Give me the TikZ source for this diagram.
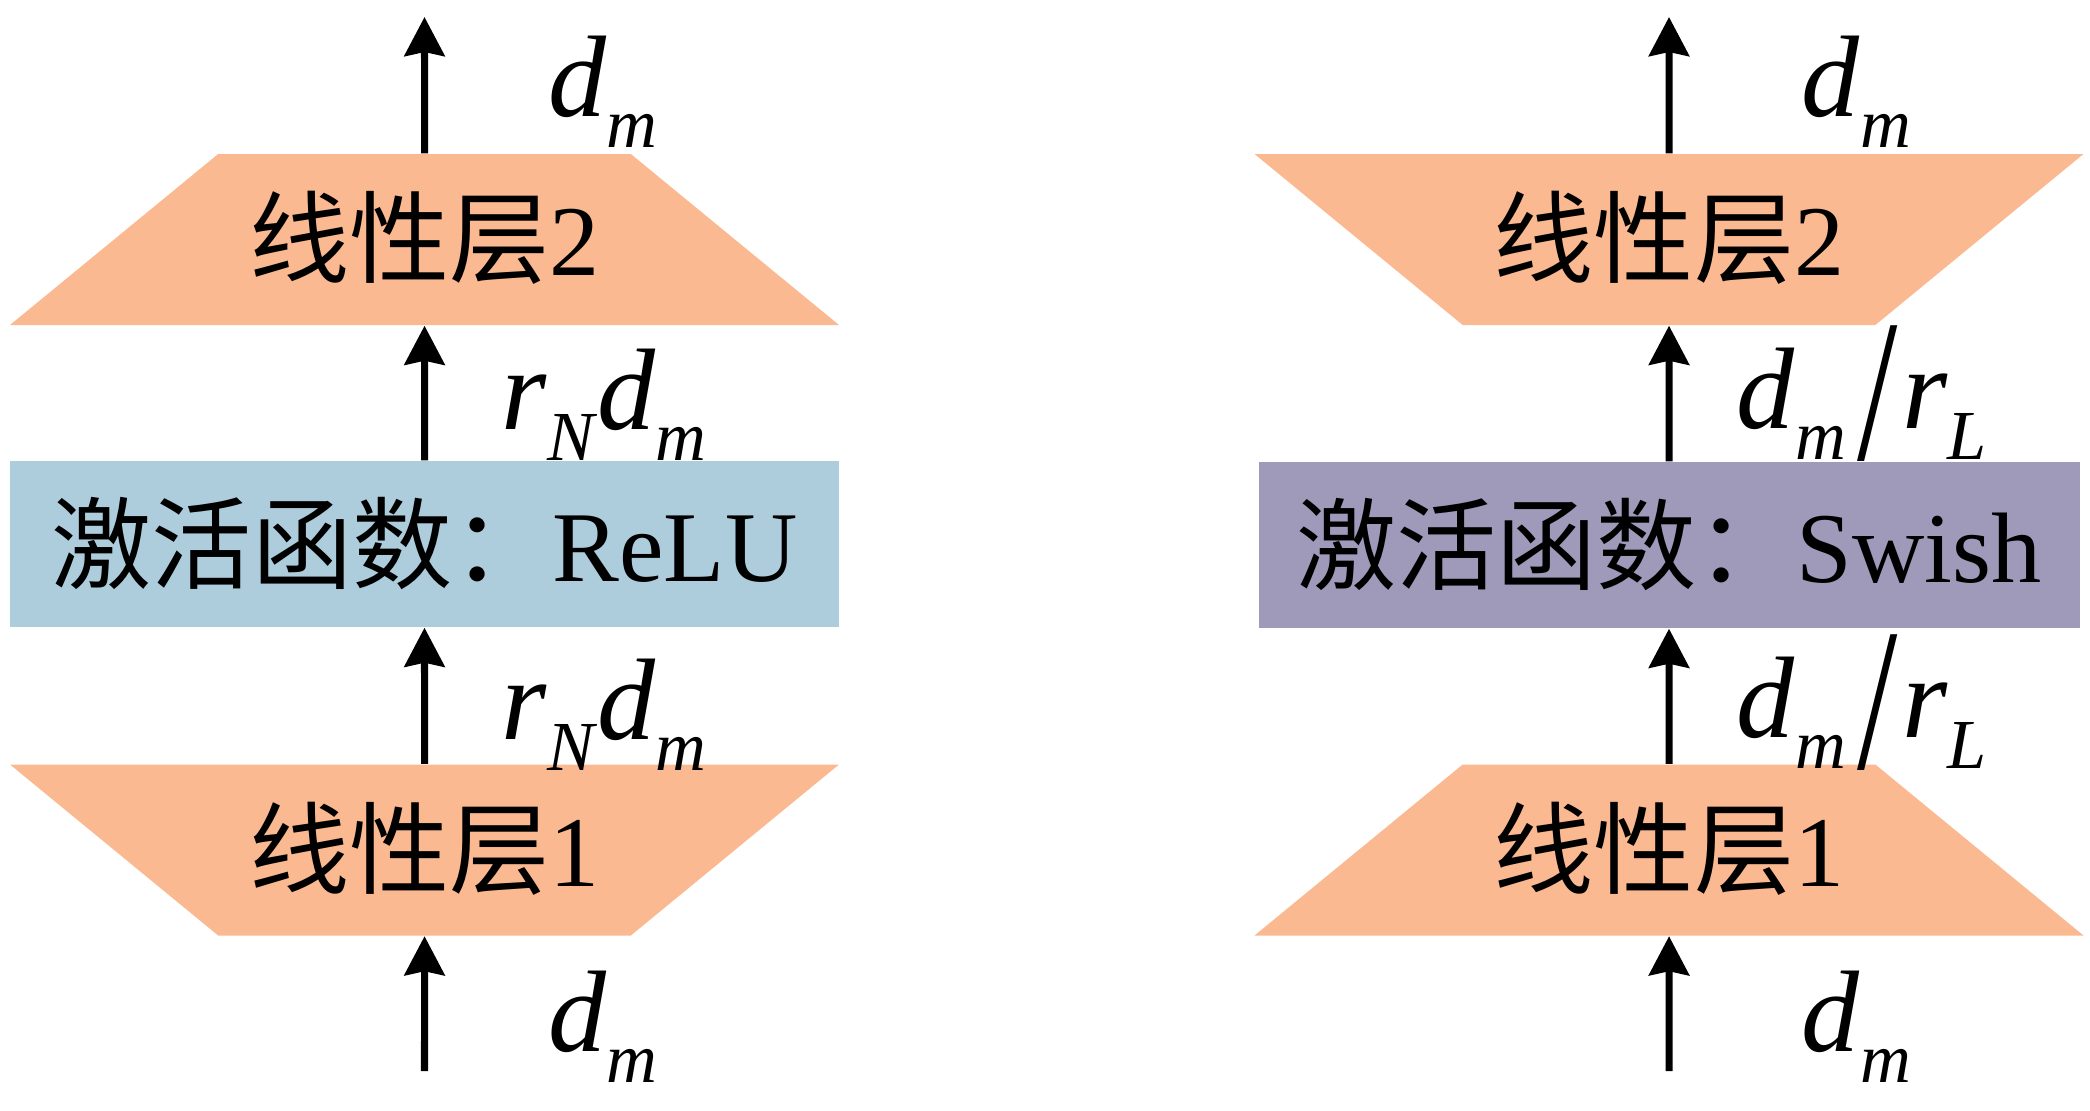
\documentclass[tikz,border=0pt]{standalone}
\usepackage{graphicx}
\usepackage{fontspec}
\setmainfont{Liberation Serif}
\newfontfamily\cjk{Noto Sans CJK SC}
\usetikzlibrary{shapes.geometric,arrows.meta}
\definecolor{layerorange}{RGB}{251,185,145}
\definecolor{relublue}{RGB}{174,205,220}
\definecolor{swishpurple}{RGB}{159,153,186}
\newcommand{\lsub}[1]{\raisebox{-0.27em}{\fontsize{20}{22}\selectfont\textit{#1}}}
\newcommand{\dm}{\textit{d}\lsub{m}}
\newcommand{\rNdm}{\textit{r}\lsub{N}\dm}
\newcommand{\dmrL}{\dm\hspace{0.1em}\raisebox{-9pt}{\scalebox{1.25}[1.75]{/}}\hspace{0.04em}\textit{r}\lsub{L}}
\tikzset{
  linlayer/.style={
    trapezium,
    trapezium stretches body,
    trapezium angle=39.4,
    minimum width=8.29cm,
    text height=0.81cm,
    text depth=0.09cm,
    inner xsep=0pt,
    inner ysep=0.405cm,
    fill=layerorange,
    font=\fontsize{28.5}{30}\selectfont,
  },
  actbox/.style={
    rectangle,
    minimum height=1.66cm,
    inner sep=0pt,
    font=\fontsize{28.5}{30}\selectfont,
  },
  flow/.style={line width=2pt, -{Stealth[length=0.39cm,width=0.40cm,inset=0.04cm]}},
  dimlbl/.style={anchor=base west, inner sep=0pt, font=\fontsize{33}{36}\selectfont},
}

\begin{document}
\begin{tikzpicture}
  \useasboundingbox (0,0) rectangle (20.90,11.10);
  % left: ReLU
  \node[linlayer, shape border rotate=180] (lin1L) at (4.245,2.60) {{\cjk 线性层}1};
  \node[actbox, fill=relublue, minimum width=8.29cm] (actL) at (4.245,5.66) {{\cjk 激活函数：}ReLU};
  \node[linlayer] (lin2L) at (4.245,8.705) {{\cjk 线性层}2};
  \coordinate (inL) at (4.245,0.39);
  \coordinate (outL) at (4.245,10.93);
  \draw[flow] (inL) -- (lin1L);
  \draw[flow] (lin1L) -- (actL);
  \draw[flow] (actL) -- (lin2L);
  \draw[flow] (lin2L) -- (outL);
  \node[dimlbl] (dInL) at (5.48,0.59) {\dm};
  \node[dimlbl] (dMidL1) at (5.01,3.71) {\rNdm};
  \node[dimlbl] (dMidL2) at (5.01,6.81) {\rNdm};
  \node[dimlbl] (dOutL) at (5.48,9.94) {\dm};
  % right: Swish
  \node[linlayer] (lin1R) at (16.69,2.60) {{\cjk 线性层}1};
  \node[actbox, fill=swishpurple, minimum width=8.21cm] (actR) at (16.69,5.65) {{\cjk 激活函数：}Swish};
  \node[linlayer, shape border rotate=180] (lin2R) at (16.69,8.705) {{\cjk 线性层}2};
  \coordinate (inR) at (16.69,0.39);
  \coordinate (outR) at (16.69,10.93);
  \draw[flow] (inR) -- (lin1R);
  \draw[flow] (lin1R) -- (actR);
  \draw[flow] (actR) -- (lin2R);
  \draw[flow] (lin2R) -- (outR);
  \node[dimlbl] (dInR) at (18.01,0.59) {\dm};
  \node[dimlbl] (dMidR1) at (17.36,3.73) {\dmrL};
  \node[dimlbl] (dMidR2) at (17.36,6.82) {\dmrL};
  \node[dimlbl] (dOutR) at (18.01,9.94) {\dm};
\end{tikzpicture}
\end{document}
